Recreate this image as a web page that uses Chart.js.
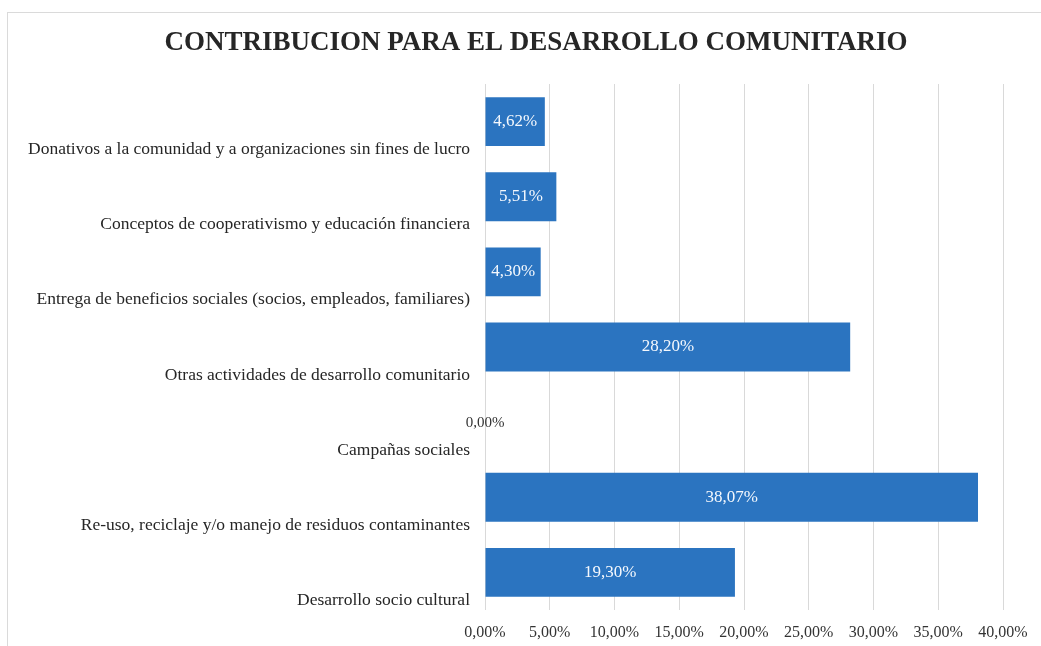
<!DOCTYPE html>
<html>
<head>
<meta charset="utf-8">
<script src="https://cdn.jsdelivr.net/npm/chart.js@4.4.1/dist/chart.umd.min.js"></script>
<style>
  html, body { margin: 0; padding: 0; background: #fff; overflow: hidden; }
  #frame { position: absolute; left: 7px; top: 12px; width: 1100px; height: 700px; border: 1px solid #dadada; }
  #wrap { position: absolute; left: 0; top: 0; width: 1041px; height: 646px; }
</style>
</head>
<body>
<div id="frame"></div>
<div id="wrap"><canvas id="grafico"></canvas></div>
<script>
// Datos del grafico
var titulo = "CONTRIBUCION PARA EL DESARROLLO COMUNITARIO";
var categorias = [
  "Donativos a la comunidad y a organizaciones sin fines de lucro",
  "Conceptos de cooperativismo y educación financiera",
  "Entrega de beneficios sociales (socios, empleados, familiares)",
  "Otras actividades de desarrollo comunitario",
  "Campañas sociales",
  "Re-uso, reciclaje y/o manejo de residuos contaminantes",
  "Desarrollo socio cultural"
];
var porcentajes = [4.62, 5.51, 4.30, 28.20, 0.00, 38.07, 19.30];
var ticksX = [0, 5, 10, 15, 20, 25, 30, 35, 40];

var azul = "#2b74c0";
var serif = "'Liberation Serif', 'Times New Roman', serif";

function formato(v) {
  return v.toFixed(2).replace(".", ",") + "%";
}

// titulo y etiquetas de datos
var etiquetas = {
  id: "etiquetas",
  afterDatasetsDraw: function (chart) {
    var ctx = chart.ctx;
    var meta = chart.getDatasetMeta(0);
    ctx.save();
    ctx.textBaseline = "middle";
    ctx.textAlign = "center";
    meta.data.forEach(function (bar, i) {
      var v = porcentajes[i];
      if (v === 0) {
        ctx.font = "15px " + serif;
        ctx.fillStyle = "#333";
        ctx.fillText(formato(v), bar.base, bar.y + 1);
      } else {
        ctx.font = "17px " + serif;
        ctx.fillStyle = "#f4f8fd";
        ctx.fillText(formato(v), (bar.x + bar.base) / 2, bar.y);
      }
    });
    // titulo centrado sobre el marco
    ctx.font = "bold 27px " + serif;
    ctx.fillStyle = "#262626";
    ctx.fillText(titulo, 536, 43);
    ctx.restore();
  }
};

var ctx = document.getElementById("grafico").getContext("2d");
var chart = new Chart(ctx, {
  type: "bar",
  data: {
    labels: categorias,
    datasets: [{
      data: porcentajes,
      backgroundColor: azul,
      borderWidth: 0,
      barPercentage: 0.65,
      categoryPercentage: 1
    }]
  },
  options: {
    indexAxis: "y",
    responsive: true,
    maintainAspectRatio: false,
    animation: false,
    layout: { padding: { left: 10, right: 38, top: 84, bottom: 0 } },
    plugins: {
      legend: { display: false },
      tooltip: { enabled: false },
      title: { display: false }
    },
    scales: {
      x: {
        min: 0,
        max: 40,
        afterBuildTicks: function (scale) {
          scale.ticks = ticksX.map(function (v) { return { value: v }; });
        },
        afterFit: function (scale) { scale.height = 36; },
        grid: { color: "#d9d9d9", drawTicks: false },
        border: { display: false },
        ticks: {
          color: "#333",
          font: { family: serif, size: 16 },
          padding: 13,
          maxRotation: 0,
          callback: function (v) { return formato(v); }
        }
      },
      y: {
        afterFit: function (scale) { scale.width = 475; },
        grid: { display: false },
        border: { display: false },
        ticks: {
          color: "#262626",
          font: { family: serif, size: 17.5 },
          padding: 7,
          labelOffset: 28
        }
      }
    }
  },
  plugins: [etiquetas]
});
</script>
</body>
</html>
